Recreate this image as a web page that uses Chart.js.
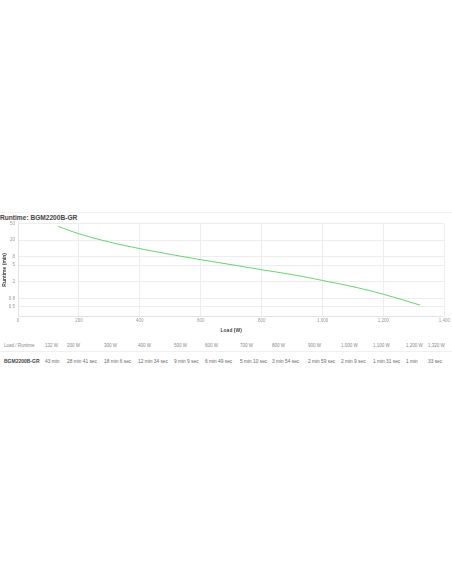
<!DOCTYPE html>
<html>
<head>
<meta charset="utf-8">
<script src="https://cdn.jsdelivr.net/npm/chart.js@4/dist/chart.umd.min.js"></script>
<style>
  html, body { margin:0; padding:0; background:#fff; width:452px; height:584px; overflow:hidden; font-family: "Liberation Sans", Arial, sans-serif; }
  #title { position:absolute; left:0; top:214px; font-size:6.6px; font-weight:bold; color:#444; line-height:8px; }
  #topline { position:absolute; left:0; top:212px; width:452px; height:1px; background:#f2f2f2; }
  #wrap { position:absolute; left:0; top:218px; width:452px; height:116px; }
  table { position:absolute; left:0; top:340px; border-collapse:collapse; font-size:4.5px; color:#888; }
  td { padding:0; white-space:nowrap; }
  tr.h td { height:11px; vertical-align:middle; border-bottom:1px solid #f0f0f0; }
  tr.v td { height:18px; vertical-align:middle; color:#666; font-size:4.8px; }
  tr.v td.m { font-weight:bold; color:#444; font-size:5px; }
</style>
</head>
<body>
<div id="topline"></div>
<div id="title">Runtime: BGM2200B-GR</div>
<div id="wrap"><canvas id="c" width="452" height="116"></canvas></div>
<table id="t"></table>
<script>
const model = "BGM2200B-GR";
const loadLabels = ["132 W","200 W","300 W","400 W","500 W","600 W","700 W","800 W","900 W","1,000 W","1,100 W","1,200 W","1,320 W"];
const runtimeLabels = ["43 min","28 min 41 sec","18 min 6 sec","12 min 34 sec","9 min 9 sec","6 min 49 sec","5 min 10 sec","3 min 54 sec","2 min 59 sec","2 min 9 sec","1 min 31 sec","1 min","33 sec"];
const loads = [132,200,300,400,500,600,700,800,900,1000,1100,1200,1320];
const minutes = [43,28.68,18.1,12.57,9.15,6.82,5.17,3.9,2.98,2.15,1.52,1.0,0.55];
const yTicks = [50,20,8,5,2,0.8,0.5];
const colLeft = [45,67,104,138,174,205,240,272,308,341,373,406,428];

// table
const t = document.getElementById('t');
let h = '<tr class="h"><td style="padding-left:4px">Load / Runtime</td>';
let v = '<tr class="v"><td class="m" style="padding-left:4px">' + model + '</td>';
for (let i = 0; i < loadLabels.length; i++) {
  const w = (i < colLeft.length - 1 ? colLeft[i+1] : 452) - colLeft[i];
  h += '<td style="width:' + w + 'px">' + loadLabels[i] + '</td>';
  v += '<td>' + runtimeLabels[i] + '</td>';
}
t.innerHTML = h + '</tr>' + v + '</tr>';
t.rows[0].cells[0].style.width = (45-4) + 'px';
t.rows[0].cells[0].style.minWidth = (45-4) + 'px';
t.rows[0].cells[0].style.maxWidth = (45-4) + 'px';

new Chart(document.getElementById('c'), {
  type: 'line',
  data: {
    datasets: [{
      data: loads.map((x, i) => ({x: x, y: minutes[i]})),
      borderColor: '#5fd46b',
      borderWidth: 1,
      pointRadius: 0,
      tension: 0.4,
      fill: false
    }]
  },
  options: {
    responsive: false,
    animation: false,
    events: [],
    plugins: { legend: { display: false }, tooltip: { enabled: false } },
    layout: { padding: { top: 5, right: 7, left: 2, bottom: 0 } },
    scales: {
      x: {
        type: 'linear', min: 0, max: 1400,
        ticks: { stepSize: 200, font: { size: 4.5 }, color: '#999', padding: 2, maxRotation: 0 },
        grid: { color: '#ededed', drawTicks: false },
        border: { color: '#e3e3e3' },
        title: { display: true, text: 'Load (W)', font: { size: 5, weight: 'bold' }, color: '#444', padding: { top: 1, bottom: 0 } },
        afterFit: s => { s.height = 18; }
      },
      y: {
        type: 'logarithmic', min: 0.3, max: 50,
        afterBuildTicks: s => { s.ticks = yTicks.map(v => ({ value: v })); },
        ticks: { font: { size: 4.5 }, color: '#999', padding: 3, callback: v => String(v) },
        grid: { color: '#ededed', drawTicks: false },
        border: { color: '#e3e3e3' },
        title: { display: true, text: 'Runtime (min)', font: { size: 5, weight: 'bold' }, color: '#444', padding: 0 },
        afterFit: s => { s.width = 16; }
      }
    }
  }
});
</script>
</body>
</html>
